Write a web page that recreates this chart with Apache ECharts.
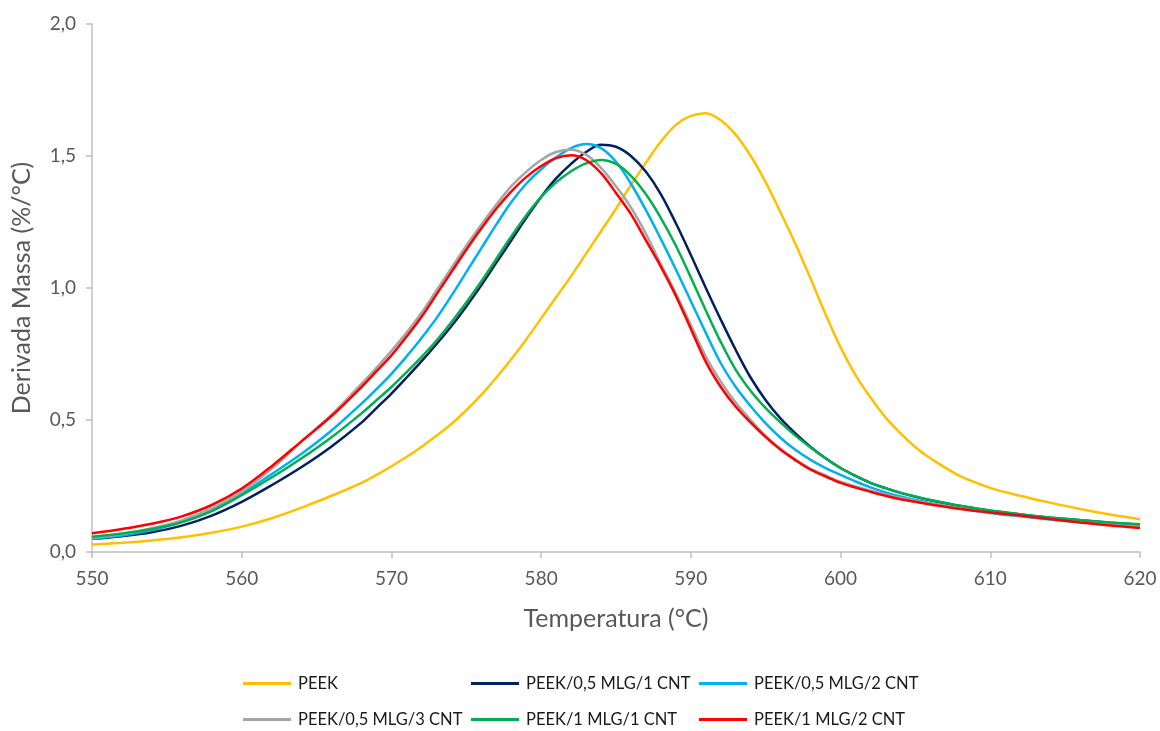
<!DOCTYPE html>
<html>
<head>
<meta charset="utf-8">
<script src="https://cdn.jsdelivr.net/npm/echarts@6/dist/echarts.min.js"></script>
<style>html,body{margin:0;padding:0;background:#fff}#c{width:1160px;height:731px}</style>
</head>
<body>
<div id="c"></div>
<script>
const temps = [550,552,554,556,558,560,562,564,566,
  568,569,570,571,572,573,574,575,576,577,578,579,580,581,582,583,584,585,586,587,588,589,590,591,592,593,594,595,596,597,598,599,600,
  601,602,603,604,605,606,608,610,612,614,616,618,620];
const seriesNames = ['PEEK','PEEK/0,5 MLG/1 CNT','PEEK/0,5 MLG/2 CNT','PEEK/0,5 MLG/3 CNT','PEEK/1 MLG/1 CNT','PEEK/1 MLG/2 CNT'];
const peek = [.028,.035,.044,.056,.073,.096,.128,.168,.213,
  .262,.292,.325,.36,.398,.44,.485,.537,.595,.66,.73,.805,.885,.965,1.045,1.13,1.215,1.3,1.39,1.475,1.555,1.618,1.652,1.662,1.635,1.58,1.5,1.4,1.285,1.165,1.035,.9,.775,
  .67,.585,.51,.45,.397,.355,.287,.243,.213,.187,.163,.142,.124];
const mlg05cnt1 = [.05,.06,.075,.1,.138,.19,.253,.322,.4,
  .49,.545,.6,.66,.722,.787,.855,.93,1.01,1.095,1.18,1.265,1.345,1.415,1.47,1.515,1.543,1.535,1.5,1.44,1.355,1.245,1.125,1.0,.88,.765,.66,.575,.505,.448,.398,.355,.318,
  .288,.262,.242,.224,.209,.196,.174,.156,.142,.13,.12,.111,.103];
const mlg05cnt2 = [.05,.062,.083,.113,.157,.22,.295,.372,.46,
  .562,.617,.675,.74,.81,.885,.97,1.06,1.15,1.24,1.325,1.395,1.45,1.495,1.53,1.545,1.53,1.478,1.395,1.295,1.185,1.07,.95,.83,.715,.625,.552,.487,.432,.386,.349,.318,.292,
  .267,.245,.226,.21,.197,.185,.165,.148,.135,.123,.113,.105,.098];
const mlg05cnt3 = [.053,.068,.09,.12,.165,.228,.315,.418,.52,
  .637,.698,.762,.83,.905,.99,1.075,1.16,1.24,1.315,1.385,1.44,1.485,1.515,1.524,1.505,1.455,1.385,1.305,1.205,1.09,.98,.86,.74,.645,.565,.5,.44,.39,.35,.315,.29,.266,
  .248,.232,.218,.205,.193,.183,.165,.152,.14,.127,.115,.104,.096];
const mlg1cnt1 = [.058,.07,.087,.113,.155,.215,.282,.355,.435,
  .525,.575,.625,.68,.738,.8,.87,.945,1.025,1.11,1.195,1.275,1.345,1.4,1.442,1.472,1.485,1.47,1.425,1.355,1.265,1.16,1.04,.915,.795,.69,.61,.545,.49,.44,.396,.355,.318,
  .288,.262,.242,.225,.21,.197,.175,.157,.143,.131,.121,.112,.105];
const mlg1cnt2 = [.071,.087,.107,.135,.178,.24,.325,.42,.515,
  .625,.685,.745,.815,.89,.975,1.06,1.145,1.225,1.3,1.365,1.42,1.462,1.492,1.503,1.485,1.435,1.36,1.28,1.18,1.08,.97,.845,.72,.625,.55,.49,.435,.387,.347,.312,.286,.262,
  .244,.228,.213,.2,.19,.18,.163,.15,.138,.125,.112,.1,.091];
const xTicks = [550,560,570,580,590,600,610,620];
const yTicks = [0,0.5,1.0,1.5,2.0];

const allValues = [peek, mlg05cnt1, mlg05cnt2, mlg05cnt3, mlg1cnt1, mlg1cnt2];
const colors = ['#FFC000','#002060','#00B0F0','#A5A5A5','#00B050','#FF0000'];
const legendPos = [[243,675],[471,675],[699,675],[243,711],[471,711],[699,711]];

const chart = echarts.init(document.getElementById('c'), null, {renderer:'canvas'});
const font = 'Lato, "Open Sans", sans-serif';
const option = {
  backgroundColor:'#ffffff',
  animation:false,
  textStyle:{fontFamily:font},
  grid:{left:92, right:20, top:24, bottom:179, containLabel:false},
  xAxis:{
    type:'value', min:xTicks[0], max:xTicks[xTicks.length-1], interval:10,
    name:'Temperatura (°C)', nameLocation:'middle', nameGap:54,
    nameTextStyle:{fontSize:25, color:'#595959', fontFamily:font},
    axisLine:{show:true, lineStyle:{color:'#BFBFBF', width:1.5}},
    axisTick:{show:true, inside:false, length:6, lineStyle:{color:'#BFBFBF', width:1.5}},
    axisLabel:{fontSize:19, color:'#595959', margin:17, fontFamily:font},
    splitLine:{show:false}
  },
  yAxis:{
    type:'value', min:yTicks[0], max:yTicks[yTicks.length-1], interval:0.5,
    name:'Derivada Massa (%/°C)', nameLocation:'middle', nameGap:58, nameRotate:90,
    nameTextStyle:{fontSize:25, color:'#595959', fontFamily:font},
    axisLine:{show:true, lineStyle:{color:'#BFBFBF', width:1.5}},
    axisTick:{show:true, inside:false, length:6, lineStyle:{color:'#BFBFBF', width:1.5}},
    axisLabel:{fontSize:19, color:'#595959', margin:16, fontFamily:font,
      formatter:v=>v.toFixed(1).replace('.',',')},
    splitLine:{show:false}
  },
  legend: seriesNames.map((n,i)=>({
    data:[n], left:legendPos[i][0], top:legendPos[i][1], padding:0,
    itemWidth:48, itemHeight:3, itemGap:0,
    icon:'rect',
    textStyle:{fontSize:16.5, color:'#1a1a1a', fontFamily:font, padding:[0,0,0,2]}
  })),
  series: seriesNames.map((n,i)=>({
    name:n, type:'line', showSymbol:false, smooth:0.35,
    data: temps.map((t,j)=>[t, allValues[i][j]]),
    lineStyle:{color:colors[i], width:2.5},
    itemStyle:{color:colors[i]},
    emphasis:{disabled:true}
  }))
};
chart.setOption(option);
</script>
</body>
</html>
